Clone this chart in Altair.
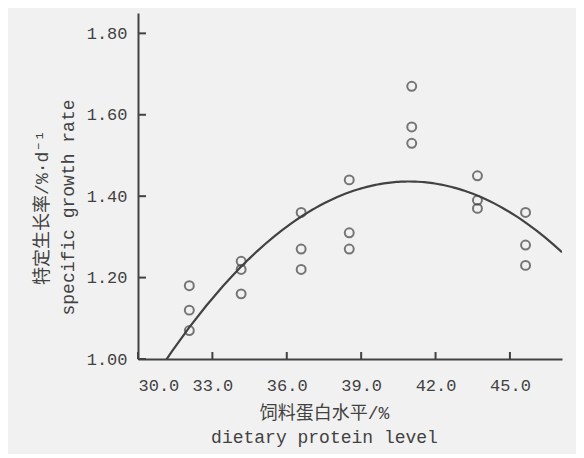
import altair as alt
import pandas as pd

# Dietary protein level (%) for each group of three replicates
protein = [32.07, 32.07, 32.07,
           34.16, 34.16, 34.16,
           36.58, 36.58, 36.58,
           38.52, 38.52, 38.52,
           41.04, 41.04, 41.04,
           43.69, 43.69, 43.69,
           45.63, 45.63, 45.63]
# Specific growth rate (%/d)
sgr = [1.18, 1.12, 1.07,
       1.24, 1.22, 1.16,
       1.36, 1.27, 1.22,
       1.44, 1.31, 1.27,
       1.67, 1.57, 1.53,
       1.45, 1.39, 1.37,
       1.36, 1.28, 1.23]

x_ticks = [30.0, 33.0, 36.0, 39.0, 42.0, 45.0]
y_ticks = [1.00, 1.20, 1.40, 1.60, 1.80]

x_domain = [30.0, 47.1]
y_domain = [1.00, 1.85]

df = pd.DataFrame({"x": protein, "y": sgr})
xt = pd.DataFrame({"t": x_ticks})
yt = pd.DataFrame({"t": y_ticks})

INK = "#424242"
MONO = "'Liberation Mono', 'Noto Sans CJK SC', monospace"

W, H = 424, 346

xscale = alt.Scale(domain=x_domain, nice=False, zero=False)
yscale = alt.Scale(domain=y_domain, nice=False, zero=False)

xaxis = alt.Axis(
    values=x_ticks, format=".1f", grid=False, ticks=False, tickSize=0,
    domainColor=INK, domainWidth=2,
    labelFont=MONO, labelFontSize=17, labelColor=INK, labelPadding=18,
    title=["饲料蛋白水平/%", "dietary protein level"],
    titleFont=MONO, titleFontSize=18, titleFontWeight="normal", titleColor=INK,
    titleLineHeight=24, titleX=186, titleY=54, titleAlign="center",
    titleBaseline="middle",
)
yaxis = alt.Axis(
    values=y_ticks, format=".2f", grid=False, ticks=False, tickSize=0,
    domainColor=INK, domainWidth=2,
    labelFont=MONO, labelFontSize=17, labelColor=INK, labelPadding=11,
    title=["特定生长率/%·d⁻¹", "specific growth rate"],
    titleFont=MONO, titleFontSize=18, titleFontWeight="normal", titleColor=INK,
    titleLineHeight=26, titleX=-96, titleY=194, titleAlign="center",
    titleBaseline="middle", titleAngle=-90,
)

points = alt.Chart(df).mark_point(
    shape="circle", filled=False, size=80, strokeWidth=2, color=INK
).encode(
    x=alt.X("x:Q", scale=xscale, axis=xaxis),
    y=alt.Y("y:Q", scale=yscale, axis=yaxis),
)

curve = alt.Chart(df).transform_regression(
    "x", "y", method="poly", order=2, extent=x_domain
).mark_line(color=INK, strokeWidth=2.2, clip=True).encode(
    x=alt.X("x:Q", scale=xscale),
    y=alt.Y("y:Q", scale=yscale),
)

xtick_marks = alt.Chart(xt).mark_rule(color=INK, strokeWidth=2).encode(
    x=alt.X("t:Q", scale=xscale),
    y=alt.value(H),
    y2=alt.value(H - 7),
)
ytick_marks = alt.Chart(yt).mark_rule(color=INK, strokeWidth=2).encode(
    y=alt.Y("t:Q", scale=yscale),
    x=alt.value(0),
    x2=alt.value(8),
)

chart = alt.layer(curve, points, xtick_marks, ytick_marks).properties(
    width=W, height=H,
    autosize=alt.AutoSizeParams(type="none"),
    padding={"left": 130, "top": 5, "right": 14, "bottom": 95},
    background="#f1f1f1",
).configure_view(strokeWidth=0)

chart.save("out.html", embed_options={"renderer": "svg", "actions": False})
